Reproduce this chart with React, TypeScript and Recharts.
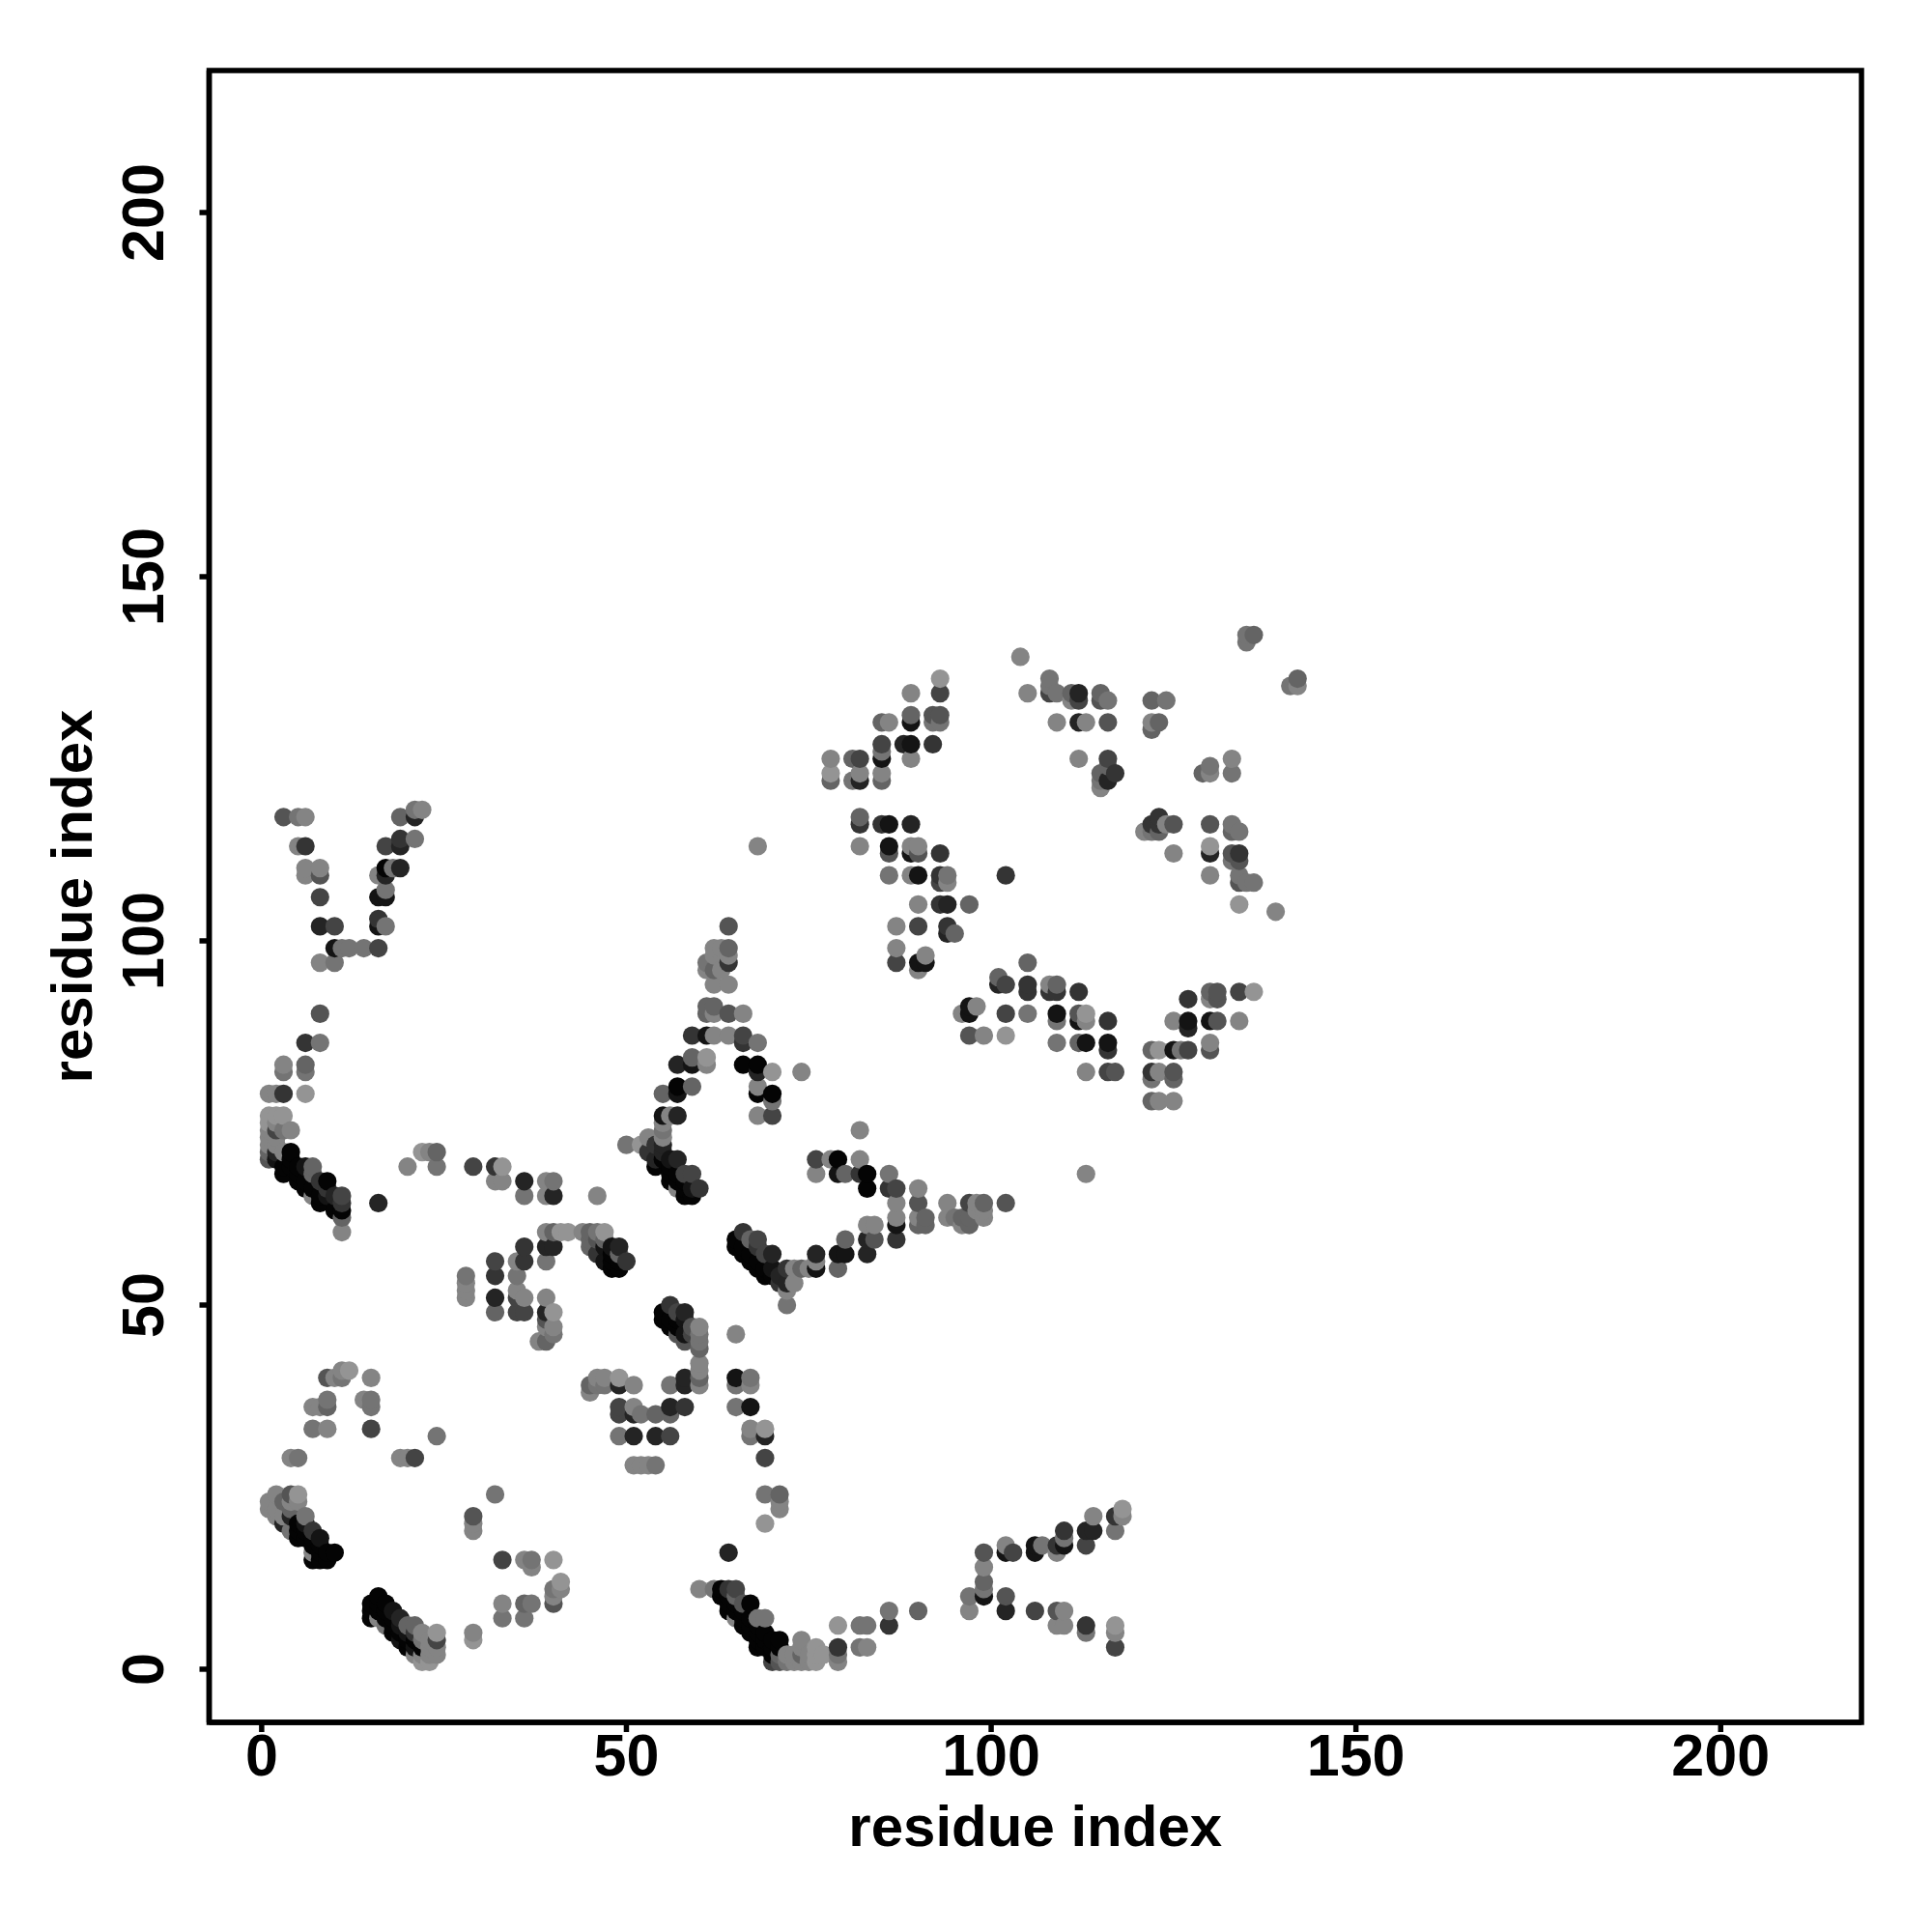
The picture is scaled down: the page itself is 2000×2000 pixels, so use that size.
import { ScatterChart, Scatter, XAxis, YAxis, ReferenceArea } from 'recharts';

// Each contact is [residue i, residue j, weight 0-9]. Higher weight draws darker.
type Contact = [number, number, number];

const axisTicks = [0, 50, 100, 150, 200];

const strandOneA: Contact[] = [
    [1,23,1],[1,22,1],[2,24,1],[2,22,1],[2,21,1],[3,23,3],[3,21,1],[3,20,7],[4,24,4],[4,23,1],[4,22,3],[4,21,7],[4,19,2],
    [5,24,0],[5,23,1],[5,20,9],[5,19,9],[5,18,9],[6,21,2],[6,20,8],[6,19,9],[6,18,9],[7,19,6],[7,18,9],[7,17,9],[7,16,1],[7,15,9],
    [8,18,8],[8,17,9],[8,16,9],[8,15,9],[9,16,9],[9,15,9],[10,16,9],
];

const strandOneB: Contact[] = [
    [15,9,9],[15,8,9],[15,7,9],[16,10,9],[16,9,9],[16,8,9],[16,7,1],[17,9,9],[17,8,9],[17,7,9],[17,6,2],[18,8,8],[18,7,9],[18,6,9],[18,5,9],
    [19,7,7],[19,6,8],[19,5,9],[19,4,8],[20,6,3],[20,5,8],[20,4,9],[20,3,9],[21,6,3],[21,5,6],[21,4,9],[21,3,8],[21,2,1],
    [22,5,1],[22,4,2],[22,3,9],[22,2,1],[22,1,0],[23,4,1],[23,3,1],[23,2,1],[23,1,0],[24,5,0],[24,4,5],[24,3,1],[24,2,1],
];

const loopLowLeft: Contact[] = [
    [9,40,4],[10,40,1],[11,40,2],[11,41,1],[12,41,0],[15,40,1],[7,36,1],[8,36,1],[9,37,2],[9,36,3],[14,37,1],[15,37,2],[15,36,2],
    [7,33,2],[9,33,1],[15,33,5],[24,32,2],[4,29,1],[5,29,2],[19,29,1],[20,29,1],[21,29,5],
    [29,5,1],[29,4,0],[32,24,2],[29,21,4],[29,20,1],[29,19,1],[33,15,5],[36,15,1],[37,15,2],[40,15,0],[37,14,1],
    [33,9,1],[33,7,2],[36,9,3],[37,9,2],[36,7,2],[40,9,4],[40,10,1],[40,11,2],[41,11,1],[41,12,0],
];

const strandTwoLow: Contact[] = [
    [60,11,1],[62,11,2],[63,11,9],[64,11,6],[65,11,5],[63,10,9],[64,10,9],[65,10,3],[64,9,9],[64,8,9],[65,9,9],[65,8,9],[65,7,1],[66,9,4],[66,8,9],[66,7,9],[66,6,9],
    [67,9,9],[67,7,9],[67,6,9],[67,5,9],[68,7,2],[68,6,9],[68,5,9],[68,4,9],[68,3,9],[69,7,2],[69,5,9],[69,4,9],[69,3,9],[70,4,9],[70,3,9],[70,2,9],[70,1,5],
    [71,4,9],[71,3,9],[71,2,3],[71,1,4],[72,2,1],[72,1,2],[73,2,1],[73,1,1],[74,4,1],[74,3,1],[74,2,3],[74,1,1],[75,2,1],[75,1,1],[76,3,0],[76,2,0],[76,1,0],[77,2,0],
    [79,6,0],[79,3,6],[79,2,2],[79,1,1],[82,6,2],[83,6,2],[82,3,2],[83,3,1],[86,8,2],[86,6,6],[90,8,3],[64,16,7],
];

const strandThreeLow: Contact[] = [
    [97,10,2],[97,8,1],[99,16,4],[99,14,1],[99,12,3],[99,11,2],[99,10,8],[102,17,1],[102,16,8],[103,16,5],[102,10,4],[102,8,7],
    [106,17,8],[106,16,8],[107,17,2],[106,8,5],[109,17,6],[109,16,1],[110,19,6],[110,18,2],[110,17,8],[109,8,4],[110,8,1],[109,6,1],[110,6,1],
    [113,19,7],[114,19,7],[113,17,5],[113,6,6],[113,5,2],[114,21,1],[117,21,6],[117,19,2],[118,22,0],[118,21,1],[117,6,0],[117,5,1],[117,3,5],
];

const helixNearOrigin: Contact[] = [
    [1,79,1],[2,79,1],[3,79,6],[6,79,0],[3,83,1],[3,82,2],[6,83,3],[6,82,2],[6,86,6],[8,86,2],[8,90,4],
    [1,76,0],[2,76,0],[3,76,0],[1,75,0],[2,75,1],[1,74,1],[2,74,5],[3,74,2],[4,74,1],[1,73,1],[2,73,1],[1,72,1],[2,72,1],
    [1,71,3],[1,70,4],[2,71,7],[3,71,1],[4,71,9],[2,70,8],[3,69,9],[3,68,9],[4,70,9],[4,69,9],[5,69,9],[5,68,9],[5,67,9],
    [6,69,8],[6,67,9],[6,66,9],[7,69,3],[7,68,3],[7,66,9],[7,65,1],[8,67,6],[8,65,9],[8,64,9],[9,67,9],[9,66,6],[9,65,8],
    [10,65,7],[10,63,9],[11,65,5],[11,64,6],[11,63,9],[11,62,3],[11,60,1],[16,64,7],
];

const stripAcross: Contact[] = [
    [20,69,1],[22,71,0],[23,71,1],[24,71,3],[24,69,2],[29,69,5],[32,69,6],[33,69,0],[32,67,1],[33,67,1],[36,67,7],[36,65,2],
    [39,67,1],[40,67,2],[39,65,1],[40,65,7],[46,65,1],[39,60,1],[40,60,3],[41,60,0],[42,60,0],[44,60,1],[45,60,3],[46,60,2],[47,60,0],
    [36,58,6],[39,58,7],[40,58,7],[36,56,6],[39,56,2],[35,56,1],[32,56,5],[32,54,6],[35,54,2],[28,54,2],[28,53,1],[28,52,1],[28,51,1],
    [32,51,7],[32,49,3],[35,52,1],[35,51,5],[36,51,1],[35,49,5],[36,49,5],[39,51,1],[39,49,7],[40,49,0],[39,48,4],[40,47,1],[39,47,1],[40,46,2],[38,45,1],[39,45,3],
    [45,59,3],[45,58,3],[46,59,4],[46,57,6],[47,59,3],[47,58,8],[47,56,8],[48,58,8],[48,57,9],[48,56,9],[48,55,9],[49,58,7],[49,57,3],[49,56,9],[49,55,9],[50,56,6],
];

const midSheet: Contact[] = [
    [45,39,3],[45,38,1],[46,40,1],[47,40,1],[46,39,2],[47,39,2],[49,40,0],[49,39,7],[51,39,1],[56,39,2],
    [49,36,5],[49,35,5],[51,36,1],[51,35,7],[52,35,2],[54,35,3],[56,36,7],[56,35,3],[58,36,6],[49,32,2],[51,32,7],[54,32,7],[56,32,5],
    [51,28,1],[52,28,1],[53,28,1],[54,28,2],[58,40,7],[58,39,7],
    [56,50,6],[55,49,9],[55,48,9],[57,49,5],[57,48,9],[58,49,7],[58,48,8],[56,48,9],[56,47,9],[57,47,9],[57,46,4],[58,46,8],[58,45,4],[59,47,4],[59,46,5],
    [60,47,1],[60,46,2],[60,45,2],[60,44,3],[60,42,1],[60,41,1],[60,40,3],[60,39,1],
    [65,46,1],[65,40,8],[65,39,2],[67,40,2],[67,39,1],[65,36,2],[67,36,8],[67,33,1],[67,32,2],[69,33,0],[69,32,7],[69,29,5],
    [69,24,2],[71,24,3],[71,23,1],[71,22,1],[69,20,0],
];

const strandFourMid: Contact[] = [
    [50,72,2],[52,72,0],[53,73,1],[53,71,6],[54,72,6],[54,70,7],[54,69,9],[55,79,3],[55,76,8],[55,75,1],[55,74,2],[55,73,1],[55,72,7],[55,71,7],[55,70,9],
    [56,76,1],[56,70,8],[56,69,9],[56,68,9],[56,67,9],[57,83,7],[57,80,9],[57,79,8],[57,76,7],[57,70,7],[57,68,9],[57,67,9],[57,66,1],
    [58,68,5],[58,67,9],[58,66,9],[58,65,9],[59,68,5],[59,66,8],[59,65,9],[60,66,6],
    [59,87,6],[59,84,3],[59,83,8],[59,80,3],[61,91,3],[61,90,3],[61,87,8],[61,84,0],[61,83,1],[62,91,3],[62,90,1],[62,87,1],
    [61,97,2],[61,96,1],[62,99,1],[62,98,1],[62,96,3],[62,94,1],[63,99,1],[63,96,1],[64,102,4],[64,99,3],[64,98,1],[64,97,6],[64,94,1],[64,90,4],[64,87,1],
    [66,90,1],[66,87,5],[66,86,6],[66,83,9],[68,86,2],[68,83,9],[68,82,7],[68,80,1],[68,79,9],[68,76,1],[70,82,0],[70,79,9],[70,78,2],[70,76,5],[74,82,1],
];

const strandFiveMid: Contact[] = [
    [65,59,9],[65,58,9],[66,60,6],[66,58,9],[66,57,9],[67,59,3],[67,57,9],[67,56,9],[68,59,5],[68,58,6],[68,56,9],[68,55,9],[69,57,5],[69,55,9],[69,54,9],
    [70,57,7],[70,55,8],[70,54,9],[71,54,7],[71,53,6],[72,55,6],[72,53,7],[72,52,1],[72,50,2],[73,55,1],[73,53,1],[74,55,3],[75,55,1],
    [76,57,7],[76,56,1],[76,55,8],[79,57,8],[80,57,8],[79,55,3],[80,59,3],[83,61,1],[84,61,1],[83,59,7],[84,59,4],[83,57,7],
    [76,70,5],[76,68,1],[78,70,1],[79,70,9],[79,68,8],[80,68,3],[82,74,1],[82,70,1],[82,68,6],[83,68,9],[83,66,9],[86,68,2],[86,66,6],
    [87,66,5],[87,64,1],[87,62,1],[87,61,8],[87,59,6],[90,66,1],[90,64,4],[90,62,1],[90,61,3],[91,62,3],[91,61,3],
    [94,64,1],[94,62,1],[95,62,2],[96,62,3],[96,61,1],[97,64,5],[97,62,3],[97,61,3],[98,64,1],[98,63,1],[99,64,3],[99,63,1],[99,62,1],[102,64,4],[113,68,1],
];

const vNearTop: Contact[] = [
    [3,117,4],[5,117,2],[6,117,1],[5,113,1],[6,113,6],[6,110,1],[6,109,1],[8,110,1],[8,109,4],[8,106,5],[8,102,7],[10,102,5],[10,99,8],[11,99,2],[12,99,2],[14,99,2],[16,99,5],
    [8,97,1],[10,97,2],[16,109,1],[16,106,8],[17,106,8],[17,107,2],[16,103,6],[16,102,8],[17,102,2],[17,110,9],[17,109,7],[18,110,2],[19,110,7],
    [17,113,5],[19,114,6],[19,113,7],[21,114,2],[19,117,3],[21,117,7],[21,118,2],[22,118,1],[68,113,1],
];

const upperSheet: Contact[] = [
    [78,125,1],[78,123,0],[78,122,3],[81,125,3],[82,125,5],[81,122,2],[82,123,1],[82,122,7],[85,130,3],[86,130,1],[85,127,5],[85,126,2],[85,125,8],[85,123,1],[85,122,3],
    [88,127,7],[89,134,1],[89,131,3],[89,130,8],[89,127,8],[89,125,1],[92,131,4],[92,130,2],[92,127,6],[93,136,0],[93,134,5],[93,131,4],[93,130,2],
    [82,117,3],[82,116,6],[85,116,6],[86,116,8],[89,116,7],[82,113,1],[86,113,8],[86,112,4],[89,113,1],[90,113,1],[89,112,8],[90,112,4],[93,112,6],
    [86,109,2],[89,109,1],[90,109,8],[93,109,6],[94,109,2],[93,108,5],[94,108,1],[102,109,6],[90,105,1],[93,105,6],[94,105,7],[97,105,3],
    [87,102,1],[90,102,5],[94,102,6],[94,101,7],[95,101,3],[87,99,1],[87,97,5],[90,97,8],[90,96,1],[91,98,1],[91,97,8],
];

const upperRight: Contact[] = [
    [104,139,1],[105,134,1],[108,136,2],[108,135,2],[108,134,5],[109,134,2],[111,134,3],[111,133,1],[112,134,7],[112,133,5],[115,134,3],[115,133,4],[116,133,2],
    [109,130,1],[112,130,7],[113,130,1],[116,130,4],[112,125,1],[116,125,5],[116,124,3],[115,123,3],[115,122,2],[115,121,1],[116,122,7],[117,123,6],
    [122,133,3],[124,133,2],[122,130,1],[122,129,3],[123,130,3],[135,142,2],[135,141,2],[136,142,3],[141,135,2],[142,136,3],[142,135,1],
    [129,123,3],[130,124,2],[130,123,1],[133,125,1],[133,123,2],[121,115,1],[122,116,6],[122,115,2],[123,117,6],[123,116,6],[123,115,3],[124,116,1],[125,116,4],[125,112,1],
    [130,116,4],[133,116,2],[133,115,3],[134,115,2],[130,113,0],[130,112,7],[133,112,4],[133,111,2],[134,112,6],[134,111,4],
    [130,109,1],[134,109,2],[134,108,4],[135,108,2],[136,108,2],[134,105,0],[139,104,1],
];

const rightMiddle: Contact[] = [
    [97,91,8],[98,91,1],[96,90,1],[97,90,8],[97,87,4],[99,87,1],[101,95,3],[101,94,7],[102,94,5],[102,90,5],[102,87,0],
    [105,97,3],[105,94,6],[105,93,6],[105,90,2],[108,94,1],[108,93,6],[109,94,3],[109,93,6],[109,90,8],[109,89,2],[109,86,2],
    [112,93,6],[112,90,4],[113,90,0],[112,89,8],[113,89,1],[116,89,6],[112,86,3],[113,86,8],[116,86,8],[116,85,6],[113,82,1],[116,82,5],[117,82,4],
    [122,85,3],[123,85,0],[125,85,8],[126,85,2],[127,85,5],[130,86,1],[130,85,4],[122,82,6],[123,82,1],[122,81,2],[125,82,4],[125,81,3],[122,78,3],[123,78,1],[125,78,1],
    [125,89,1],[127,92,6],[127,89,8],[127,88,7],[130,89,8],[131,89,4],[134,89,1],[130,93,3],[130,92,1],[131,93,4],[131,92,4],[134,93,5],[136,93,0],
];

const contacts = [
    ...strandOneA, ...strandOneB, ...loopLowLeft, ...strandTwoLow, ...strandThreeLow, ...helixNearOrigin, ...stripAcross,
    ...midSheet, ...strandFourMid, ...strandFiveMid, ...vNearTop, ...upperSheet, ...upperRight, ...rightMiddle,
].map(([i, j, weight]) => ({ i, j, weight }));

// same draw order as the original plot: by i, then j
contacts.sort((a, b) => a.i - b.i || a.j - b.j);

const FONT = '"Liberation Sans", Arial, sans-serif';

const ContactDot = (props: any) => {
    const grey = 148 - props.payload.weight * 16;
    return <circle cx={props.cx} cy={props.cy} r={9.6} fill={`rgb(${grey},${grey},${grey})`} />;
};

const YTick = (props: any) => (
    <text
        transform={`translate(${props.x - 36},${props.y}) rotate(-90)`}
        textAnchor="middle"
        fontFamily={FONT}
        fontWeight="bold"
        fontSize={61}
        fill="#000"
    >
        {props.payload.value}
    </text>
);

const App = () => {
    return (
        <div style={{ position: 'absolute', left: 0, top: 0, width: 2000, height: 2000, background: '#fff' }}>
            <ScatterChart width={2000} height={2000} margin={{ top: 73, right: 73, bottom: 0, left: 0 }}>
                <XAxis
                    type="number"
                    dataKey="i"
                    domain={[-7.2, 219.3]}
                    ticks={axisTicks}
                    interval={0}
                    height={217}
                    allowDataOverflow
                    stroke="#000"
                    strokeWidth={5.5}
                    tickSize={10}
                    tickMargin={2}
                    tick={{ fontFamily: FONT, fontWeight: 'bold', fontSize: 61, fill: '#000' }}
                    label={{ value: 'residue index', position: 'insideBottom', offset: 89, fontFamily: FONT, fontWeight: 'bold', fontSize: 60, fill: '#000' }}
                />
                <YAxis
                    type="number"
                    dataKey="j"
                    domain={[-7.3, 219.5]}
                    ticks={axisTicks}
                    interval={0}
                    width={216.5}
                    allowDataOverflow
                    stroke="#000"
                    strokeWidth={5.5}
                    tickSize={10}
                    tick={<YTick />}
                    label={{ value: 'residue index', angle: -90, position: 'insideLeft', offset: 74, fontFamily: FONT, fontWeight: 'bold', fontSize: 60, fill: '#000', style: { textAnchor: 'middle' } }}
                />
                <ReferenceArea x1={-7.2} x2={219.3} y1={-7.3} y2={219.5} fill="none" stroke="#000" strokeWidth={5.5} ifOverflow="visible" />
                <Scatter data={contacts} isAnimationActive={false} shape={<ContactDot />} />
            </ScatterChart>
        </div>
    );
};

export default App;
